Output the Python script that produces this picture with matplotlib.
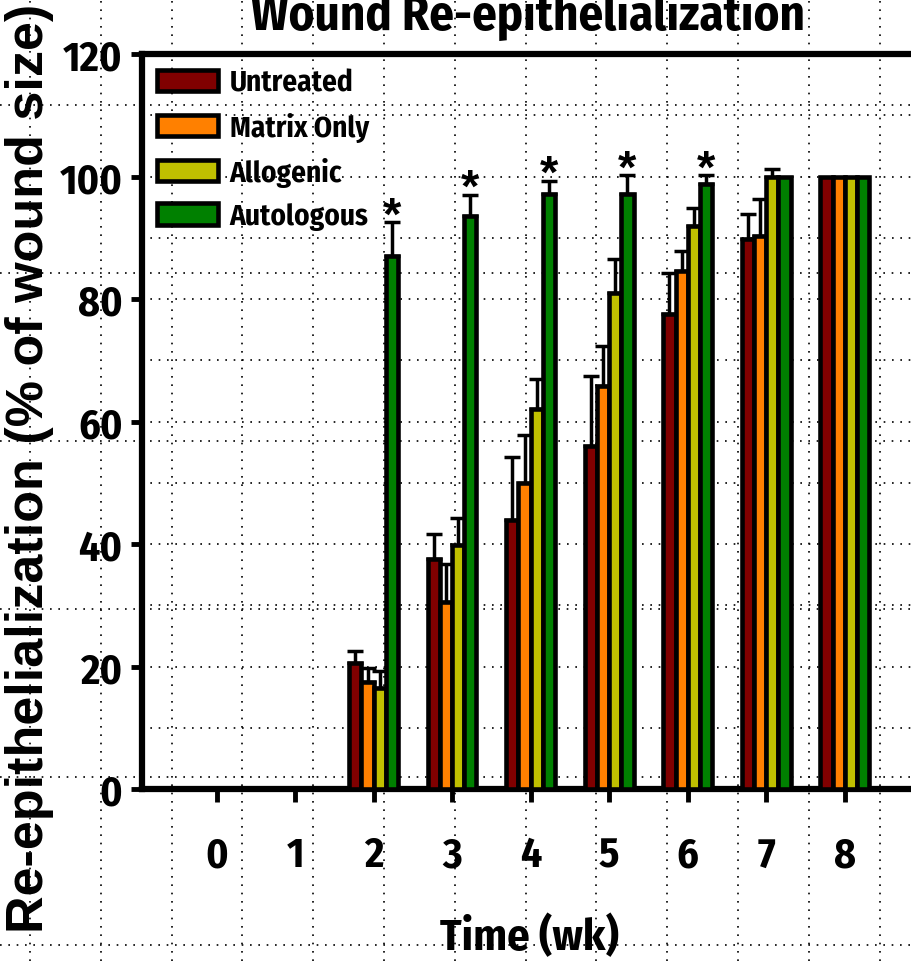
import numpy as np
import matplotlib.pyplot as plt
from matplotlib.ticker import MultipleLocator

plt.rcParams['font.family'] = ['Fira Sans Condensed', 'DejaVu Sans']
plt.rcParams['font.weight'] = 'bold'
WIDE = ['Liberation Sans', 'DejaVu Sans']

# data (weeks 0 and 1 have no bars)
weeks = [0, 1, 2, 3, 4, 5, 6, 7, 8]
bar_weeks = [2, 3, 4, 5, 6, 7, 8]
groups = ['Untreated', 'Matrix Only', 'Allogenic', 'Autologous']
untreated = [20.5, 37.5, 44.0, 56.0, 77.5, 89.8, 100]
untreated_err = [2.0, 4.2, 10.2, 11.5, 6.7, 4.0, 0]
matrix_only = [17.5, 30.5, 50.0, 65.8, 84.5, 90.3, 100]
matrix_only_err = [2.2, 6.3, 7.8, 6.5, 3.4, 6.0, 0]
allogenic = [16.5, 39.8, 62.0, 81.0, 92.0, 100, 100]
allogenic_err = [2.8, 4.5, 5.0, 5.5, 2.8, 1.2, 0]
autologous = [87.0, 93.6, 97.2, 97.2, 98.8, 100, 100]
autologous_err = [5.5, 3.4, 2.1, 3.0, 1.4, 0, 0]
significant = [True, True, True, True, True, False, False]

colors = ['#800000', '#ff8000', '#c0c000', '#008000']
series = [untreated, matrix_only, allogenic, autologous]
errors = [untreated_err, matrix_only_err, allogenic_err, autologous_err]

W, H = 911, 962
fig = plt.figure(figsize=(W / 100, H / 100), dpi=100)

# dotted grid over the whole picture
bg = fig.add_axes([0, 0, 1, 1], zorder=0)
bg.set_xlim(0, W)
bg.set_ylim(H, 0)
bg.set_xticks(np.arange(30, W, 70.8))
bg.set_yticks(np.arange(106, H, 168))
bg.grid(True, ls=(0, (1, 4)), lw=1.2, color='black')
bg.tick_params(length=0, labelbottom=False, labelleft=False)
for s in bg.spines.values():
    s.set_visible(False)

ax = fig.add_axes([142 / W, 1 - 790 / H, (935 - 142) / W, (790 - 55) / H], zorder=1)
ax.patch.set_alpha(0)

x = np.array(bar_weeks, dtype=float)
w = 0.155
for i, (vals, errs) in enumerate(zip(series, errors)):
    pos = x + (i - 1.5) * w
    vals = np.array(vals)
    errs = np.array(errs)
    ax.bar(pos, vals, w, color=colors[i], edgecolor='black', linewidth=3.3,
           label=groups[i], zorder=3)
    m = errs > 0
    ax.errorbar(pos[m], vals[m], yerr=[np.zeros(m.sum()), errs[m]], fmt='none',
                ecolor='black', elinewidth=2.5, capsize=6, capthick=2.5, zorder=2.5)

# significance stars over autologous
for k, sig in enumerate(significant):
    if sig:
        ax.text(x[k] + 1.5 * w, autologous[k] + autologous_err[k] - 1.0, '*',
                ha='center', va='baseline', fontsize=34, fontweight='bold',
                family=WIDE, zorder=4)

ax.set_xlim(-0.95, 9.15)
ax.set_ylim(0, 120)
ax.set_xticks(weeks)
ax.set_yticks(range(0, 121, 20))
ax.yaxis.set_minor_locator(MultipleLocator(10))
ax.grid(axis='y', which='both', ls=(0, (1, 4)), lw=1.2, color='black', zorder=0)
ax.set_axisbelow(True)
ax.tick_params(axis='x', direction='out', length=9, width=3.5, pad=24, labelsize=30)
ax.tick_params(axis='y', direction='out', length=8, width=3.5, pad=6, labelsize=30)
ax.tick_params(which='minor', length=0)
for side in ['left', 'top', 'bottom']:
    ax.spines[side].set_linewidth(4.5)
ax.spines['right'].set_visible(False)

ax.legend(loc='upper left', frameon=False, fontsize=21, handlelength=2.1,
          handleheight=0.75, labelspacing=0.52, borderaxespad=0.3,
          borderpad=0.2, handletextpad=0.4)

fig.text(30 / W, 1 - 468 / H, 'Re-epithelialization (% of wound size)', rotation=90,
         ha='center', va='center', fontsize=37.5, fontweight='bold', family=WIDE)
fig.text(528 / W, 1 - 30 / H, 'Wound Re-epithelialization', ha='center',
         va='baseline', fontsize=35, fontweight='bold')
fig.text(529 / W, 1 - 950 / H, 'Time (wk)', ha='center', va='baseline',
         fontsize=32, fontweight='bold')

fig.savefig('out.png', dpi=100)
